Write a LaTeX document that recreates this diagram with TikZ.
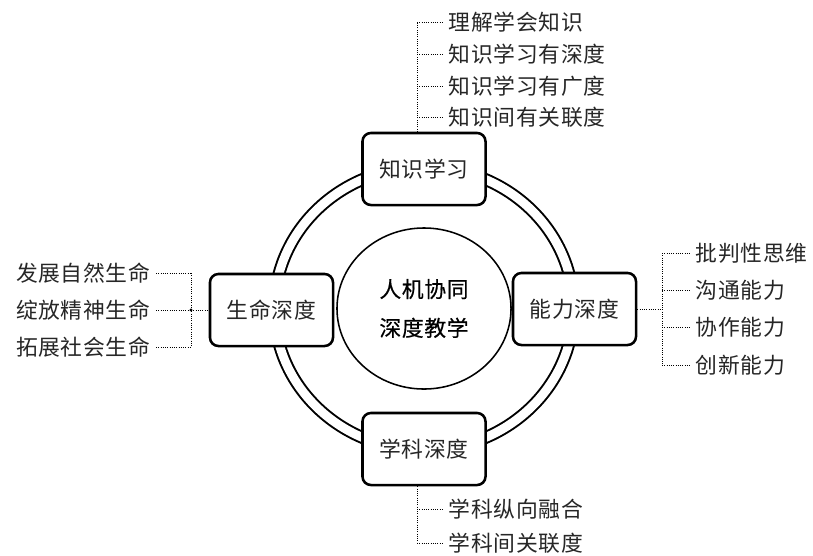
\documentclass[tikz,border=0pt]{standalone}
\usepackage{fontspec}
\setmainfont{Noto Sans CJK SC}[LetterSpace=3]
\usetikzlibrary{shapes.geometric}

\begin{document}
\begin{tikzpicture}[
    x=0.025cm, y=-0.025cm,
    font=\fontsize{15.5pt}{20pt}\selectfont,
    text=black!85,
    box/.style={draw, line width=1.8pt, rectangle, fill=white, minimum width=3.075cm, minimum height=1.8cm, align=center, rounded corners=6pt},
    hub/.style={draw, line width=1.1pt, ellipse, inner sep=0pt, minimum width=4.35cm, minimum height=4.025cm, align=center, text=black, font=\fontsize{15.5pt}{27.6pt}\selectfont\addfontfeature{FakeBold=0.4}},
    ring/.style={line width=1.4pt, double, double distance=6.3pt},
    leaf/.style={inner xsep=4pt, inner ysep=1pt},
    dotline/.style={line width=0.6pt, densely dotted}
]
    \useasboundingbox (0,0) rectangle (813,555);

    % Centre
    \node[hub] (core) at (424,308.5) {人机协同\\深度教学};
    \draw[ring] (core.center) ellipse [x radius=3.7375cm, y radius=3.5375cm];

    % Four dimensions
    \node[box] (know) at (424,169) {知识学习};
    \node[box] (life) at (271.5,310) {生命深度};
    \node[box] (abil) at (574.5,309) {能力深度};
    \node[box] (subj) at (424,449) {学科深度};

    % Knowledge branch
    \node[leaf, anchor=west] (k1) at (443,22) {理解学会知识};
    \node[leaf, anchor=west] (k2) at (443,54) {知识学习有深度};
    \node[leaf, anchor=west] (k3) at (443,86) {知识学习有广度};
    \node[leaf, anchor=west] (k4) at (443,117) {知识间有关联度};
    \coordinate (kbar) at (417,22);
    \draw[dotline] (know.north -| kbar) -- (kbar);
    \foreach \i in {1,...,4}
        \draw[dotline] (k\i.west -| kbar) -- (k\i.west);

    % Life branch
    \node[leaf, anchor=east] (l1) at (156,273) {发展自然生命};
    \node[leaf, anchor=east] (l2) at (156,310) {绽放精神生命};
    \node[leaf, anchor=east] (l3) at (156,347) {拓展社会生命};
    \coordinate (lbar) at (191,310);
    \draw[dotline] (l1.east -| lbar) -- (l3.east -| lbar);
    \foreach \i in {1,2,3}
        \draw[dotline] (l\i.east) -- (l\i.east -| lbar);
    \draw[dotline] (lbar) -- (life.west);
    \fill (lbar) circle (1.1pt);

    % Ability branch
    \node[leaf, anchor=west] (a1) at (690,253) {批判性思维};
    \node[leaf, anchor=west] (a2) at (690,290) {沟通能力};
    \node[leaf, anchor=west] (a3) at (690,327) {协作能力};
    \node[leaf, anchor=west] (a4) at (690,365) {创新能力};
    \coordinate (abar) at (662,309);
    \draw[dotline] (abil.east) -- (abar);
    \draw[dotline] (a1.west -| abar) -- (a4.west -| abar);
    \foreach \i in {1,...,4}
        \draw[dotline] (a\i.west -| abar) -- (a\i.west);

    % Subject branch
    \node[leaf, anchor=west] (s1) at (443,509) {学科纵向融合};
    \node[leaf, anchor=west] (s2) at (443,543) {学科间关联度};
    \coordinate (sbar) at (417,543);
    \draw[dotline] (subj.south -| sbar) -- (sbar);
    \foreach \i in {1,2}
        \draw[dotline] (s\i.west -| sbar) -- (s\i.west);
\end{tikzpicture}
\end{document}
